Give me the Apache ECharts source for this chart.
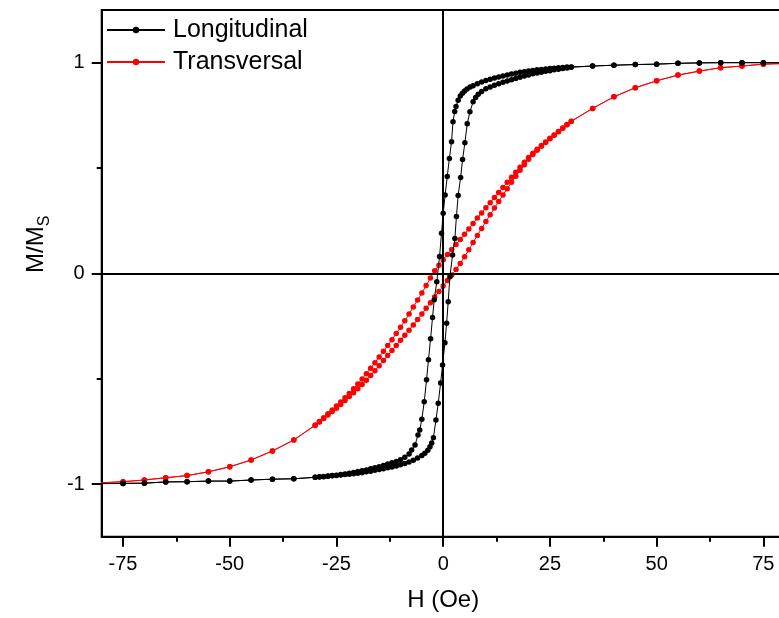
<!DOCTYPE html>
<html>
<head>
<meta charset="utf-8">
<script src="https://cdn.jsdelivr.net/npm/echarts@6/dist/echarts.min.js"></script>
<style>
html,body{margin:0;padding:0;background:#fff;}
#chart{width:779px;height:618px;}
</style>
</head>
<body>
<div id="chart"></div>
<script>
// Longitudinal loop: descending branch (+80 -> -80)
var longDownH = [80,75,70,65,60,55,50,45,40,35,
  30,29,28,27,26,25,24,23,22,21,20,19,18,17,16,15,14,13,12,11,10,9,8,7,
  6.3,5.6,5,4.5,4,3.5,3,2.7,2.3,1.95,1.45,0.95,0.45,0,-0.4,-0.85,-1.5,-2.1,-2.5,-2.95,-3.45,-3.9,-4.45,-5,-5.5,-5.9,-6.6,-7.4,
  -8,-9,-10,-11,-12,-13,-14,-15,-16,-17,-18,-19,-20,-21,-22,-23,-24,-25,-26,-27,-28,-29,-30,
  -35,-40,-45,-50,-55,-60,-65,-70,-75,-80];
var longDownM = [1.000,1.000,1.000,1.000,0.999,0.997,0.993,0.991,0.988,0.984,
  0.980,0.979,0.977,0.976,0.974,0.972,0.970,0.968,0.966,0.963,0.960,0.957,0.954,0.950,0.946,0.942,0.937,0.932,0.927,0.921,0.915,0.908,0.900,0.891,
  0.884,0.875,0.866,0.855,0.842,0.822,0.792,0.768,0.720,0.625,0.545,0.460,0.372,0.285,0.190,0.080,-0.040,-0.125,-0.210,-0.310,-0.410,-0.505,-0.610,-0.693,-0.744,-0.767,-0.815,-0.839,
  -0.857,-0.873,-0.885,-0.893,-0.899,-0.905,-0.912,-0.918,-0.923,-0.928,-0.933,-0.937,-0.941,-0.945,-0.949,-0.952,-0.955,-0.958,-0.960,-0.962,-0.964,-0.966,-0.968,
  -0.975,-0.977,-0.981,-0.986,-0.986,-0.989,-0.990,-0.996,-0.997,-0.998];
// Longitudinal loop: ascending branch (-80 -> +80)
var longUpH = [-80,-75,-70,-65,-60,-55,-50,-45,-40,-35,
  -30,-29,-28,-27,-26,-25,-24,-23,-22,-21,-20,-19,-18,-17,-16,-15,-14,-13,-12,-11,-10,-9,-8,-7,-6,-5,
  -4.3,-3.6,-3.1,-2.7,-2.3,-1.7,-1.17,-0.6,-0.15,0.4,0.8,1.17,1.57,2.2,2.74,3.1,3.5,4.08,4.54,5.08,5.63,6.26,7,7.6,8.2,9,
  10,11,12,13,14,15,16,17,18,19,20,21,22,23,24,25,26,27,28,29,30,
  35,40,45,50,55,60,65,70,75,80];
var longUpM = [-0.998,-0.997,-0.996,-0.990,-0.989,-0.986,-0.986,-0.981,-0.977,-0.975,
  -0.968,-0.967,-0.965,-0.963,-0.961,-0.959,-0.957,-0.955,-0.953,-0.951,-0.949,-0.946,-0.942,-0.939,-0.935,-0.931,-0.927,-0.923,-0.919,-0.914,-0.908,-0.902,-0.895,-0.887,-0.877,-0.865,
  -0.854,-0.840,-0.823,-0.805,-0.780,-0.696,-0.617,-0.520,-0.435,-0.330,-0.237,-0.135,-0.016,0.087,0.166,0.270,0.370,0.455,0.540,0.620,0.710,0.767,0.814,0.835,0.850,0.863,
  0.876,0.885,0.893,0.900,0.907,0.913,0.919,0.925,0.931,0.937,0.942,0.947,0.951,0.955,0.959,0.962,0.966,0.969,0.972,0.975,0.978,
  0.984,0.988,0.991,0.993,0.997,0.999,1.000,1.000,1.000,1.000];
// Transversal loop: descending branch
var transDownH = [80,75,70,65,60,55,50,45,40,35,
  30,29,28,27,26,25,24,23,22,21,20,19,18,17,16,15,14,13,12,11,10,9,8,7,6,5,4,3,2,1,0,
  -1,-2,-3,-4,-5,-6,-7,-8,-9,-10,-11,-12,-13,-14,-15,-16,-17,-18,-19,-20,-21,-22,-23,-24,-25,-26,-27,-28,-29,-30,
  -35,-40,-45,-50,-55,-60,-65,-70,-75,-80];
var transDownM = [0.996,0.993,0.984,0.976,0.960,0.941,0.914,0.881,0.838,0.783,
  0.722,0.706,0.690,0.673,0.657,0.641,0.624,0.607,0.589,0.570,0.550,0.527,0.504,0.480,0.456,0.432,0.408,0.384,0.360,0.335,0.311,0.287,0.263,0.237,0.211,0.186,0.161,0.137,0.113,0.089,0.064,
  0.038,0.012,-0.022,-0.058,-0.093,-0.127,-0.160,-0.193,-0.225,-0.256,-0.286,-0.315,-0.343,-0.370,-0.397,-0.424,-0.450,-0.476,-0.501,-0.525,-0.548,-0.570,-0.591,-0.611,-0.630,-0.649,-0.667,-0.685,-0.703,-0.720,
  -0.791,-0.843,-0.886,-0.918,-0.942,-0.960,-0.970,-0.981,-0.989,-0.994];
// Transversal loop: ascending branch
var transUpH = [-80,-75,-70,-65,-60,-55,-50,-45,-40,-35,
  -30,-29,-28,-27,-26,-25,-24,-23,-22,-21,-20,-19,-18,-17,-16,-15,-14,-13,-12,-11,-10,-9,-8,-7,-6,-5,-4,-3,-2,-1,0,
  1,2,3,4,5,6,7,8,9,10,11,12,13,14,15,16,17,18,19,20,21,22,23,24,25,26,27,28,29,30,
  35,40,45,50,55,60,65,70,75,80];
var transUpM = [-0.994,-0.989,-0.981,-0.970,-0.960,-0.942,-0.918,-0.886,-0.843,-0.791,
  -0.722,-0.705,-0.689,-0.672,-0.656,-0.640,-0.622,-0.604,-0.585,-0.567,-0.548,-0.528,-0.507,-0.485,-0.462,-0.438,-0.414,-0.390,-0.366,-0.342,-0.318,-0.294,-0.270,-0.245,-0.219,-0.193,-0.166,-0.139,-0.112,-0.086,-0.060,
  -0.034,-0.008,0.018,0.047,0.079,0.112,0.146,0.180,0.213,0.246,0.278,0.310,0.341,0.372,0.402,0.432,0.461,0.489,0.516,0.542,0.564,0.584,0.603,0.621,0.639,0.656,0.672,0.689,0.705,0.721,
  0.783,0.838,0.881,0.914,0.941,0.960,0.976,0.984,0.993,0.996];

var seriesNames = ['Longitudinal', 'Transversal'];
var xMajorTicks = [-75, -50, -25, 0, 25, 50, 75];
var xMinorTicks = [-62.5, -37.5, -12.5, 12.5, 37.5, 62.5];
var yMajorTicks = [-1, 0, 1];
var yMinorTicks = [-0.5, 0.5];
var xTitle = 'H (Oe)';

function loop(hA, mA, hB, mB) {
  var out = [];
  function push(h, m) {
    var item = { value: [h, m] };
    if (Math.abs(h) >= 80) item.symbol = 'none';
    out.push(item);
  }
  for (var i = 0; i < hA.length; i++) push(hA[i], mA[i]);
  for (var j = 0; j < hB.length; j++) push(hB[j], mB[j]);
  return out;
}

var FONT = 'Liberation Sans, Arial, Helvetica, sans-serif';
var chart = echarts.init(document.getElementById('chart'), null, { renderer: 'canvas' });

chart.setOption({
  animation: false,
  backgroundColor: '#fff',
  textStyle: { fontFamily: FONT },
  grid: {
    left: 101.7, top: 10, width: 683, height: 526.7,
    show: true, borderColor: '#000', borderWidth: 2, backgroundColor: 'transparent',
    containLabel: false, outerBoundsMode: 'none'
  },
  legend: {
    orient: 'vertical', left: 106, top: 17, padding: 0,
    itemWidth: 58, itemHeight: 8, itemGap: 6,
    textStyle: { fontSize: 25, color: '#000', fontFamily: FONT, lineHeight: 26, padding: [0, 0, 0, 3] },
    data: seriesNames
  },
  xAxis: [{
    type: 'value', min: -80, max: 80, position: 'bottom',
    name: xTitle, nameLocation: 'middle', nameGap: 52,
    nameTextStyle: { fontSize: 24, color: '#000', fontFamily: FONT },
    axisLine: { show: true, onZero: false, lineStyle: { color: '#000', width: 2 } },
    axisTick: { show: true, inside: false, length: 10, lineStyle: { color: '#000', width: 2 }, customValues: xMajorTicks },
    axisLabel: { show: true, margin: 18, fontSize: 20, color: '#000', fontFamily: FONT, customValues: xMajorTicks },
    splitLine: { show: false }
  }, {
    type: 'value', min: -80, max: 80, position: 'bottom', gridIndex: 0,
    axisLine: { show: false, onZero: false },
    axisTick: { show: true, inside: false, length: 5, lineStyle: { color: '#000', width: 2 }, customValues: xMinorTicks },
    axisLabel: { show: false, customValues: xMinorTicks },
    splitLine: { show: false }
  }],
  yAxis: [{
    type: 'value', min: -1.25, max: 1.25, position: 'left',
    name: '{m|M/M}{s|S}', nameLocation: 'middle', nameGap: 49, nameRotate: 90,
    nameTextStyle: {
      color: '#000', fontFamily: FONT,
      rich: {
        m: { fontSize: 24, lineHeight: 24, verticalAlign: 'top', color: '#000', fontFamily: FONT, padding: [0, 0, 0, 58] },
        s: { fontSize: 16, lineHeight: 28, verticalAlign: 'bottom', color: '#000', fontFamily: FONT }
      }
    },
    axisLine: { show: true, onZero: false, lineStyle: { color: '#000', width: 2 } },
    axisTick: { show: true, inside: false, length: 10, lineStyle: { color: '#000', width: 2 }, customValues: yMajorTicks },
    axisLabel: { show: true, margin: 17, fontSize: 20, color: '#000', fontFamily: FONT, customValues: yMajorTicks },
    splitLine: { show: false }
  }, {
    type: 'value', min: -1.25, max: 1.25, position: 'left', gridIndex: 0,
    axisLine: { show: false, onZero: false },
    axisTick: { show: true, inside: false, length: 5, lineStyle: { color: '#000', width: 2 }, customValues: yMinorTicks },
    axisLabel: { show: false, customValues: yMinorTicks },
    splitLine: { show: false }
  }],
  series: [{
    name: seriesNames[0], type: 'line', xAxisIndex: 0, yAxisIndex: 0,
    data: loop(longDownH, longDownM, longUpH, longUpM),
    symbol: 'circle', symbolSize: 5.5, showSymbol: true, showAllSymbol: true,
    color: '#000', lineStyle: { color: '#000', width: 1 }, itemStyle: { color: '#000' },
    emphasis: { disabled: true }, clip: true, z: 3,
    markLine: {
      silent: true, symbol: ['none', 'none'], animation: false,
      label: { show: false },
      lineStyle: { color: '#000', width: 2, type: 'solid' },
      emphasis: { disabled: true },
      data: [{ xAxis: 0 }, { yAxis: 0 }]
    }
  }, {
    name: seriesNames[1], type: 'line', xAxisIndex: 0, yAxisIndex: 0,
    data: loop(transDownH, transDownM, transUpH, transUpM),
    symbol: 'circle', symbolSize: 5.5, showSymbol: true, showAllSymbol: true,
    color: '#ff0000', lineStyle: { color: '#ff0000', width: 1 }, itemStyle: { color: '#ff0000' },
    emphasis: { disabled: true }, clip: true, z: 2
  }]
});
</script>
</body>
</html>
